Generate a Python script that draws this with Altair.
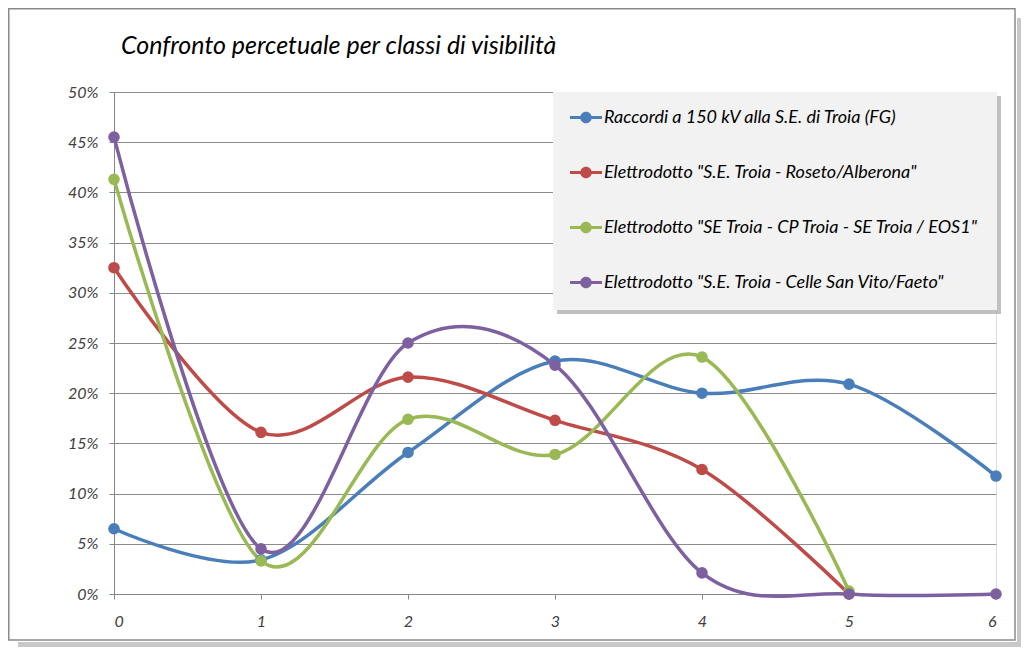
import altair as alt
import pandas as pd

classes = [0, 1, 2, 3, 4, 5, 6]
series_names = [
    "Raccordi a 150 kV alla S.E. di Troia (FG)",
    'Elettrodotto "S.E. Troia - Roseto/Alberona"',
    'Elettrodotto "SE Troia - CP Troia - SE Troia / EOS1"',
    'Elettrodotto "S.E. Troia - Celle San Vito/Faeto"',
]
blue_vals = [6.5, 3.4, 14.1, 23.2, 20.0, 20.9, 11.75]
red_vals = [32.5, 16.1, 21.6, 17.3, 12.4, 0.0]
green_vals = [41.3, 3.3, 17.4, 13.9, 23.6, 0.3]
purple_vals = [45.5, 4.5, 25.0, 22.8, 2.1, 0.0, 0.0]
colors = ["#4A7EBB", "#BE4B48", "#98B954", "#7D60A0"]
y_ticks = [0, 5, 10, 15, 20, 25, 30, 35, 40, 45, 50]

rows = []
for name, vals in zip(series_names, [blue_vals, red_vals, green_vals, purple_vals]):
    for i, v in enumerate(vals):
        rows.append({"serie": name, "classe": classes[i], "perc": v})
df = pd.DataFrame(rows)

W, H = 882, 502
PL, PT, PR, PB = 106, 84, 25, 53

sym_path = ("M-1,-0.1L-0.3,-0.1L-0.3,0.1L-1,0.1Z"
            "M0.3,-0.1L1,-0.1L1,0.1L0.3,0.1Z"
            "M0.36,0A0.36,0.36 0 1,1 -0.36,0A0.36,0.36 0 1,1 0.36,0Z")

color_scale = alt.Scale(domain=series_names, range=colors)
xs = alt.Scale(domain=[0, 6], nice=False, zero=False)
ys = alt.Scale(domain=[0, 50], nice=False)

one = pd.DataFrame({"a": [0]})

# outer chart frame with soft shadow (decoration)
shadow_b = alt.Chart(one).mark_rect(color="#c8c8c8").encode(
    x=alt.value(-PL + 10), x2=alt.value(W + PR),
    y=alt.value(H + 48), y2=alt.value(H + PB),
)
shadow_r = alt.Chart(one).mark_rect(color="#c8c8c8").encode(
    x=alt.value(W + 21), x2=alt.value(W + PR),
    y=alt.value(-PT + 10), y2=alt.value(H + PB),
)
frame = alt.Chart(one).mark_rect(fillOpacity=0, stroke="#8a8a8a", strokeWidth=1.5).encode(
    x=alt.value(-PL + 0.75), x2=alt.value(W + 19),
    y=alt.value(-PT + 0.75), y2=alt.value(H + 46),
)
# legend box with shadow
leg_shadow = alt.Chart(one).mark_rect(color="#b0b0b0", opacity=0.8).encode(
    x=alt.value(443), x2=alt.value(887),
    y=alt.value(4), y2=alt.value(222),
)
leg_box = alt.Chart(one).mark_rect(color="#f2f2f2").encode(
    x=alt.value(439), x2=alt.value(883),
    y=alt.value(0), y2=alt.value(218),
)

label_style = dict(labelFont="Lato", labelFontSize=16, labelFontStyle="italic",
                   labelColor="#404040", domainColor="#868686", tickColor="#868686",
                   tickSize=5)

base = alt.Chart(df)
lines = base.mark_line(interpolate="cardinal", tension=0, strokeWidth=3.5).encode(
    x=alt.X("classe:Q", scale=xs, title=None,
            axis=alt.Axis(values=classes, format="d", grid=False, labelPadding=14,
                          **label_style)),
    y=alt.Y("perc:Q", scale=ys, title=None,
            axis=alt.Axis(values=y_ticks, labelExpr="datum.value + '%'", grid=True,
                          gridColor="#8c8c8c", labelPadding=11, **label_style)),
    color=alt.Color("serie:N", scale=color_scale, title=None,
                    legend=alt.Legend(orient="none", legendX=456, legendY=9.5,
                                      symbolType=sym_path, symbolSize=1024,
                                      symbolStrokeWidth=0, labelOffset=2,
                                      labelLimit=500, padding=0, rowPadding=30,
                                      labelFontSize=18, labelFontStyle="italic",
                                      labelColor="#000000", labelFont="Lato")),
    detail="serie:N",
)
points = base.mark_circle(size=135, opacity=1).encode(
    x=alt.X("classe:Q", scale=xs),
    y=alt.Y("perc:Q", scale=ys),
    color=alt.Color("serie:N", scale=color_scale, legend=None),
)

chart = alt.layer(shadow_b, shadow_r, frame, leg_shadow, leg_box, lines, points).properties(
    width=W, height=H,
    autosize=alt.AutoSizeParams(type="none"),
    padding={"left": PL, "top": PT, "right": PR, "bottom": PB},
    title=alt.TitleParams("Confronto percetuale per classi di visibilità",
                          anchor="start", frame="group", dx=7, fontSize=25,
                          fontStyle="italic", baseline="alphabetic",
                          font="Lato", fontWeight="normal", color="#000000", offset=-71),
).configure_view(stroke=None).configure(background="white")

chart.save("out.html", embed_options={"renderer": "svg", "actions": False})
